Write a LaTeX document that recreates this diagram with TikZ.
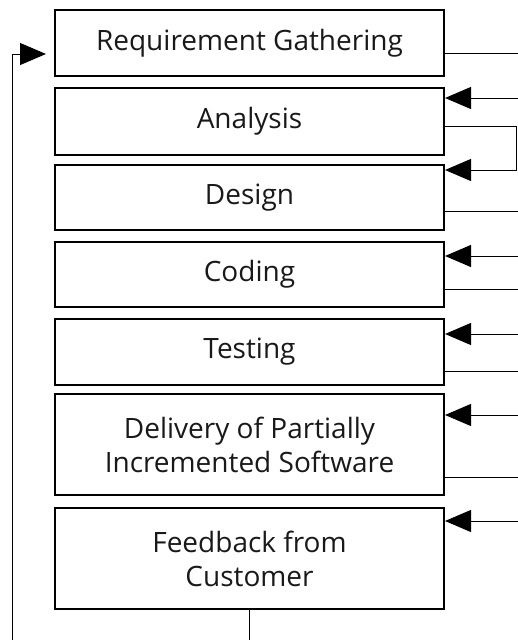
\documentclass[tikz,border=0pt]{standalone}
\usepackage{fontspec}
\setmainfont{Open Sans}
\usetikzlibrary{arrows.meta}
\tikzset{
  stage/.style={draw, line width=2pt, minimum width=389pt, align=center, inner sep=0pt, text=black!90, font=\fontsize{28}{34}\selectfont},
  flow/.style={line width=1pt, -{Triangle[length=26pt,width=22pt]}}
}
\begin{document}
\begin{tikzpicture}[x=1pt,y=-1pt]
            \useasboundingbox (0,0) rectangle (517,640);
            \node[stage, minimum height=66pt] (req) at (249.5,43) {Requirement Gathering};
            \node[stage, minimum height=67pt] (ana) at (249.5,121.5) {Analysis};
            \node[stage, minimum height=65pt] (des) at (249.5,197.5) {Design};
            \node[stage, minimum height=65pt] (cod) at (249.5,274.5) {Coding};
            \node[stage, minimum height=66pt] (tst) at (249.5,352) {Testing};
            \node[stage, minimum height=101pt] (dlv) at (249.5,444.5) {Delivery of Partially\\Incremented Software};
            \node[stage, minimum height=101pt] (fdb) at (249.5,558.5) {Feedback from\\Customer};
            \draw[flow] (req.east |- 0,53) -- (525,53) -- (525,98) -- (ana.east |- 0,98);
            \draw[flow] (ana.east |- 0,126) -- (516,126) -- (516,170) -- (des.east |- 0,170);
            \draw[flow] (des.east |- 0,211) -- (525,211) -- (525,256) -- (cod.east |- 0,256);
            \draw[flow] (cod.east |- 0,289) -- (525,289) -- (525,334) -- (tst.east |- 0,334);
            \draw[flow] (tst.east |- 0,371) -- (525,371) -- (525,415) -- (dlv.east |- 0,415);
            \draw[flow] (dlv.east |- 0,477) -- (525,477) -- (525,521) -- (fdb.east |- 0,521);
            \draw[flow, shorten >=8pt] (fdb.south) -- (249.5,650) -- (12,650) -- (12,54) -- (req.west |- 0,54);
        \end{tikzpicture}
\end{document}
